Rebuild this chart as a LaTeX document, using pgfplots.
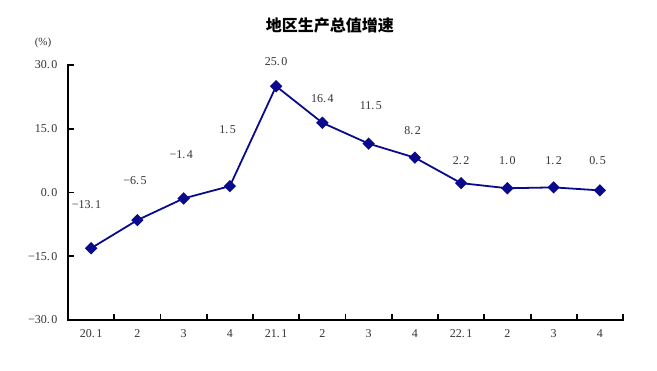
\documentclass[border=0pt]{standalone}
\usepackage{pgfplots}
\pgfplotsset{compat=1.18}
\usepackage{fontspec}
\setmainfont{Liberation Serif}
\newfontfamily\cjk{Noto Sans CJK SC}
\definecolor{navy}{RGB}{10,10,140}
\begin{document}
\begin{tikzpicture}
\path[use as bounding box] (-68bp,-51bp) rectangle (589bp,320bp);
\begin{axis}[
  at={(0,0)}, anchor=south west,
  scale only axis, width=555bp, height=255bp,
  xmin=0, xmax=12, ymin=-30, ymax=30,
  axis x line=bottom, axis y line=left,
  axis line style={-, line width=2pt, black},
  tick align=inside,
  major tick length=6bp,
  xtick={0,1,...,12},
  xticklabels={},
  extra x ticks={0.5,1.5,...,11.5},
  extra x tick labels={20.\hspace{1.5pt}1,2,3,4,21.\hspace{1.5pt}1,2,3,4,22.\hspace{1.5pt}1,2,3,4},
  extra x tick style={major tick length=0pt, xticklabel style={yshift=-6bp}},
  tick style={line width=2pt, black},
  ytick={-30,-15,0,15,30},
  yticklabels={−30.\hspace{1.5pt}0,−15.\hspace{1.5pt}0,0.\hspace{1.5pt}0,15.\hspace{1.5pt}0,30.\hspace{1.5pt}0},
  ticklabel style={font=\fontsize{12bp}{14bp}\selectfont, text=black!80},
  yticklabel style={xshift=-7bp},
  clip=false,
]
\draw[line width=2pt, black, line cap=rect] (rel axis cs:0,1) -- (rel axis cs:0,0) -- (rel axis cs:1,0);
\addplot[navy, line width=1.8pt, mark=square*, mark size=3.5bp, mark options={rotate=45, fill=navy, solid}]
coordinates {(0.5,-13.1)(1.5,-6.5)(2.5,-1.4)(3.5,1.5)(4.5,25.0)(5.5,16.4)(6.5,11.5)(7.5,8.2)(8.5,2.2)(9.5,1.0)(10.5,1.2)(11.5,0.5)};
\addplot[draw=none, mark=none, nodes near coords, point meta=explicit symbolic,
  every node near coord/.style={anchor=center, font=\fontsize{12bp}{14bp}\selectfont, text=black!80}]
coordinates {(0.4,-2.9)[−13.\hspace{1.5pt}1](1.45,2.9)[−6.\hspace{1.5pt}5](2.45,8.8)[−1.\hspace{1.5pt}4](3.45,14.7)[1.\hspace{1.5pt}5](4.5,30.7)[25.\hspace{1.5pt}0](5.5,22.2)[16.\hspace{1.5pt}4](6.55,20.4)[11.\hspace{1.5pt}5](7.45,14.5)[8.\hspace{1.5pt}2](8.5,7.6)[2.\hspace{1.5pt}2](9.5,7.4)[1.\hspace{1.5pt}0](10.5,7.4)[1.\hspace{1.5pt}2](11.45,7.6)[0.\hspace{1.5pt}5]};
\node[font=\cjk\bfseries\fontsize{16bp}{18bp}\selectfont] at (rel axis cs:0.472,1) [yshift=40bp] {地区生产总值增速};
\node[font=\fontsize{11bp}{13bp}\selectfont, text=black!80] at (rel axis cs:0,1) [xshift=-25bp, yshift=22bp] {(\%)};
\end{axis}
\end{tikzpicture}
\end{document}
